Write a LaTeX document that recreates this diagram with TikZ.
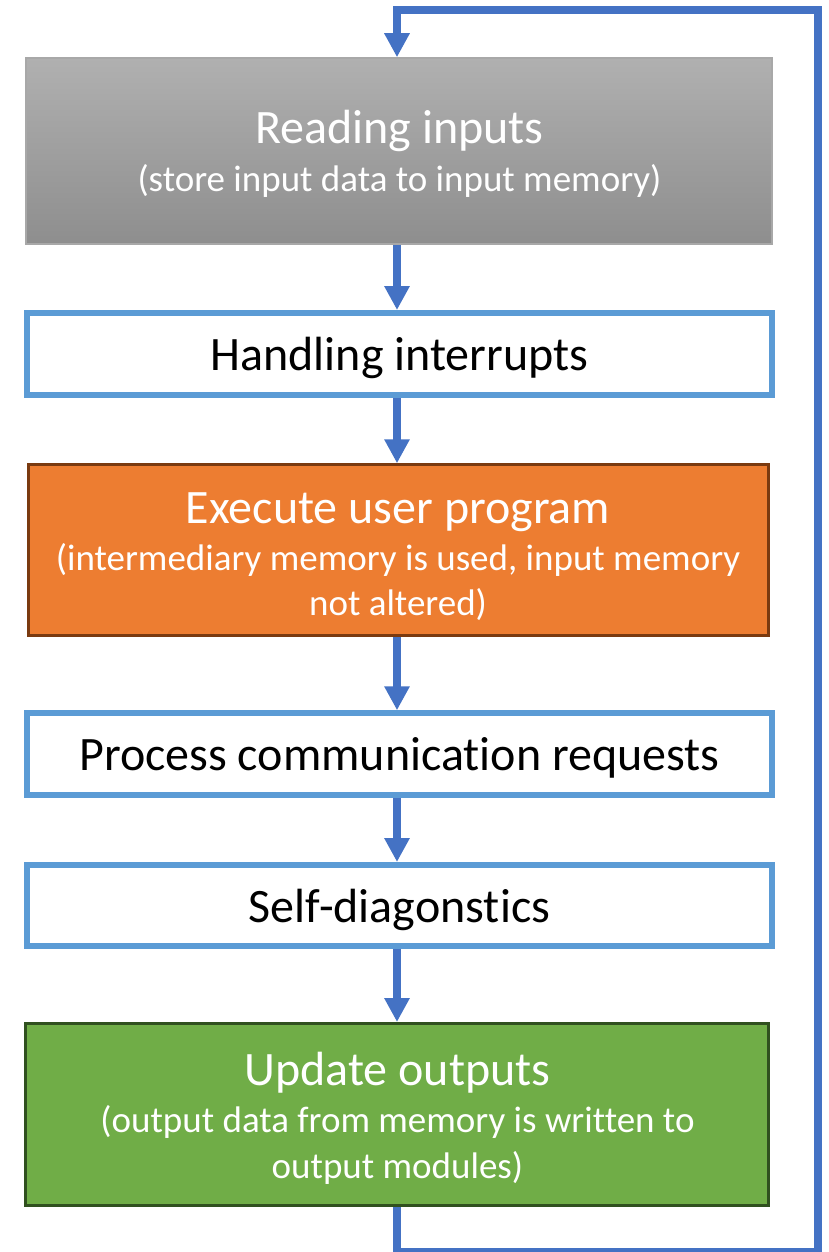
\documentclass[tikz,border=0pt]{standalone}
\usepackage{fontspec}
\setmainfont{Carlito}[Ligatures={NoCommon}]
\usetikzlibrary{arrows.meta}

\definecolor{flowblue}{HTML}{4472C4}
\definecolor{frameblue}{HTML}{5B9BD5}
\definecolor{grayTop}{HTML}{B0B0B0}
\definecolor{grayBot}{HTML}{8E8E8E}
\definecolor{grayEdge}{HTML}{A8A8A8}
\definecolor{orangeFill}{HTML}{ED7D31}
\definecolor{orangeEdge}{HTML}{7A3A10}
\definecolor{greenFill}{HTML}{70AD47}
\definecolor{greenEdge}{HTML}{30501F}

\tikzset{
  box/.style={rectangle, inner sep=0pt},
  plainbox/.style={box, draw=frameblue, line width=6pt, fill=white},
  graybox/.style={box, draw=grayEdge, line width=1.5pt, top color=grayTop, bottom color=grayBot},
  orangebox/.style={box, draw=orangeEdge, line width=2.5pt, fill=orangeFill},
  greenbox/.style={box, draw=greenEdge, line width=3pt, fill=greenFill},
  title/.style={inner sep=0pt, anchor=base, font=\fontsize{48}{58}\selectfont},
  sub/.style={inner sep=0pt, anchor=base, font=\fontsize{37}{45}\selectfont},
  flow/.style={draw=flowblue, line width=8pt, line join=miter, -{Triangle[width=24pt,length=24pt]}}
}

\begin{document}
\begin{tikzpicture}[x=1pt, y=-1pt]
  \useasboundingbox (0,0) rectangle (828,1252);

  % process steps
  \node[graybox, minimum width=746pt, minimum height=186pt] (read) at (399,151) {};
  \node[plainbox, minimum width=745pt, minimum height=82pt] (intr) at (399.5,354) {};
  \node[orangebox, minimum width=740pt, minimum height=171pt] (exec) at (398.5,550) {};
  \node[plainbox, minimum width=745pt, minimum height=81.5pt] (proc) at (399.5,754) {};
  \node[plainbox, minimum width=745pt, minimum height=81pt] (diag) at (399.5,905.5) {};
  \node[greenbox, minimum width=743pt, minimum height=182pt] (outp) at (397,1114.5) {};

  % labels
  \node[title, text=white] (readT) at (399.5,144) {Reading inputs};
  \node[sub, text=white] (readS) at (399.5,192) {(store input data to input memory)};
  \node[title] (intrT) at (399.5,370.5) {Handling interrupts};
  \node[title, text=white] (execT) at (398,523) {Execute user program};
  \node[sub, text=white] (execS1) at (398,570) {(intermediary memory is used, input memory};
  \node[sub, text=white] (execS2) at (398,615) {not altered)};
  \node[title] (procT) at (399.5,770.5) {Process communication requests};
  \node[title] (diagT) at (399.5,922) {Self-diagonstics};
  \node[title, text=white] (outpT) at (397.5,1085) {Update outputs};
  \node[sub, text=white] (outpS1) at (397.5,1132) {(output data from memory is written to};
  \node[sub, text=white] (outpS2) at (397.5,1178) {output modules)};

  % column of the connectors and corners of the return loop
  \coordinate (col) at (397,0);
  \coordinate (lb) at (397,1252);
  \coordinate (rb) at (818,1252);
  \coordinate (rt) at (818,10.5);
  \coordinate (lt) at (397,10.5);

  % forward arrows
  \draw[flow] (read.south -| col) -- (intr.north -| col);
  \draw[flow] (intr.south -| col) -- (exec.north -| col);
  \draw[flow] (exec.south -| col) -- (proc.north -| col);
  \draw[flow] (proc.south -| col) -- (diag.north -| col);
  \draw[flow] (diag.south -| col) -- (outp.north -| col);

  % return loop back to the first step
  \draw[flow] (outp.south -| col) -- (lb) -- (rb) -- (rt) -- (lt) -- (read.north -| col);
\end{tikzpicture}
\end{document}
